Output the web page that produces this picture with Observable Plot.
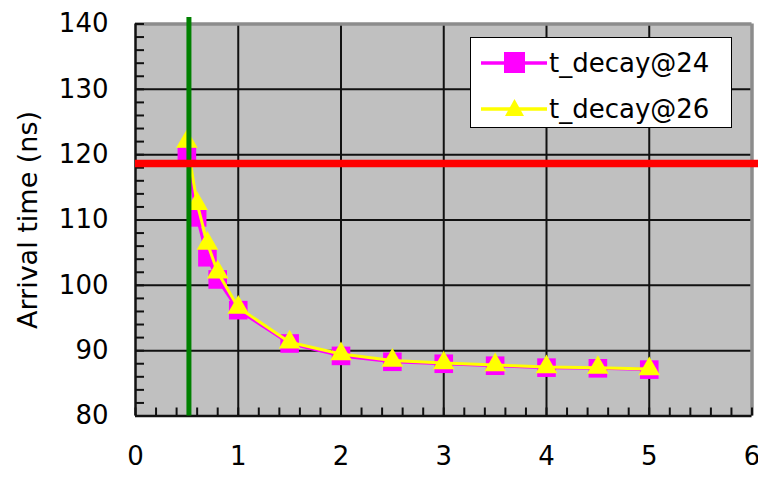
<!DOCTYPE html>
<html>
<head>
<meta charset="utf-8">
<script src="https://cdn.jsdelivr.net/npm/d3@7"></script>
<script src="https://cdn.jsdelivr.net/npm/@observablehq/plot@0.6"></script>
<style>
  html, body { margin: 0; padding: 0; background: #fff; }
  #wrap { position: relative; width: 758px; height: 477px; font-family: "DejaVu Sans", sans-serif; }
  #legend { position: absolute; left: 470px; top: 37px; width: 262px; height: 91px;
            background: #fff; border: 1.5px solid #000; box-sizing: border-box; }
  .entry { position: absolute; left: 8px; height: 40px; display: flex; align-items: center; }
  .entry span { font-size: 26px; color: #000; margin-left: 0px; }
</style>
</head>
<body>
<div id="wrap"></div>
<script>
// ---- data ----
const xValues = [0.5, 0.6, 0.7, 0.8, 1.0, 1.5, 2, 2.5, 3, 3.5, 4, 4.5, 5];
const decay24 = [119.7, 110.4, 104.3, 100.9, 96.2, 91.1, 89.2, 88.3, 88.0, 87.7, 87.4, 87.3, 87.1];
const decay26 = [122.0, 112.5, 106.4, 102.0, 96.6, 91.3, 89.5, 88.5, 88.1, 87.8, 87.5, 87.4, 87.2];
const seriesNames = ["t_decay@24", "t_decay@26"];
const xTicks = [0, 1, 2, 3, 4, 5, 6];
const yTicks = [80, 90, 100, 110, 120, 130, 140];
const xMinor = d3.range(0, 6.0001, 0.2);
const yMinor = d3.range(80, 140.0001, 2);
const greenX = 0.52;      // vertical marker line
const redY = 118.65;      // horizontal marker line
const yLabel = "Arrival time (ns)";

const rows24 = xValues.map((x, i) => ({x, y: decay24[i]}));
const rows26 = xValues.map((x, i) => ({x, y: decay26[i]}));

const W = 758, H = 477;
const mL = 135, mR = 6.5, mT = 23.5, mB = 61.5;
const plotW = W - mL - mR, plotH = H - mT - mB;

const chart = Plot.plot({
  width: W, height: H,
  marginLeft: mL, marginRight: mR, marginTop: mT, marginBottom: mB,
  x: {domain: [0, 6], axis: null},
  y: {domain: [80, 140], axis: null},
  style: {fontFamily: "DejaVu Sans, sans-serif", background: "#fff", overflow: "visible"},
  marks: [
    Plot.frame({fill: "#c0c0c0", stroke: null}),
    // grid
    Plot.ruleX(xTicks.slice(1, -1), {stroke: "#111", strokeWidth: 2}),
    Plot.ruleY(yTicks.slice(1, -1), {stroke: "#111", strokeWidth: 2}),
    // top & right gray border
    Plot.ruleY([140], {stroke: "#8c8c8c", strokeWidth: 3.5}),
    Plot.ruleX([6], {stroke: "#8c8c8c", strokeWidth: 3.5}),
    // minor ticks (inward)
    Plot.ruleY(yMinor, {stroke: "#111", strokeWidth: 2, insetRight: plotW - 9}),
    Plot.ruleX(xMinor, {stroke: "#111", strokeWidth: 2, insetTop: plotH - 8}),
    // axis lines
    Plot.ruleX([0], {stroke: "#111", strokeWidth: 2.5}),
    Plot.ruleY([80], {stroke: "#111", strokeWidth: 2.5}),
    // tick labels
    Plot.axisY(yTicks, {tickSize: 0, tickPadding: 27, fontSize: 26, fill: "#000", label: null}),
    Plot.axisX(xTicks, {tickSize: 0, tickPadding: 31, fontSize: 26, fill: "#000", label: null}),
    Plot.text([yLabel], {frameAnchor: "left", textAnchor: "middle", dx: -107, rotate: -90, fontSize: 27, fill: "#000"}),
    // series 1
    Plot.line(rows24, {x: "x", y: "y", stroke: "#ff00ff", strokeWidth: 3}),
    Plot.dot(rows24, {x: "x", y: "y", symbol: "square", r: 10.5, fill: "#ff00ff", stroke: null}),
    // series 2
    Plot.line(rows26, {x: "x", y: "y", stroke: "#ffff00", strokeWidth: 3}),
    Plot.dot(rows26, {x: "x", y: "y", symbol: "triangle", r: 8, fill: "#ffff00", stroke: null}),
    // marker lines
    Plot.ruleX([greenX], {y1: 80, y2: 141, stroke: "#008000", strokeWidth: 5}),
    Plot.ruleY([redY], {x1: 0, x2: 6.07, stroke: "#ff0000", strokeWidth: 7.5})
  ]
});

const wrap = document.getElementById("wrap");
wrap.appendChild(chart);

// legend
const legend = document.createElement("div");
legend.id = "legend";
const swatches = [
  {name: seriesNames[0], color: "#ff00ff", shape: "square"},
  {name: seriesNames[1], color: "#ffff00", shape: "triangle"}
];
swatches.forEach((s, i) => {
  const e = document.createElement("div");
  e.className = "entry";
  e.style.top = (5 + i * 46) + "px";
  const mk = s.shape === "square"
    ? `<rect x="25" y="9" width="21" height="21" fill="${s.color}"/>`
    : `<path d="M35.5,10 L45,27 L26,27 Z" fill="${s.color}"/>`;
  e.innerHTML = `<svg width="70" height="40"><line x1="2" x2="68" y1="20" y2="20" stroke="${s.color}" stroke-width="3.5"/>${mk}</svg><span>${s.name}</span>`;
  legend.appendChild(e);
});
wrap.appendChild(legend);
</script>
</body>
</html>
